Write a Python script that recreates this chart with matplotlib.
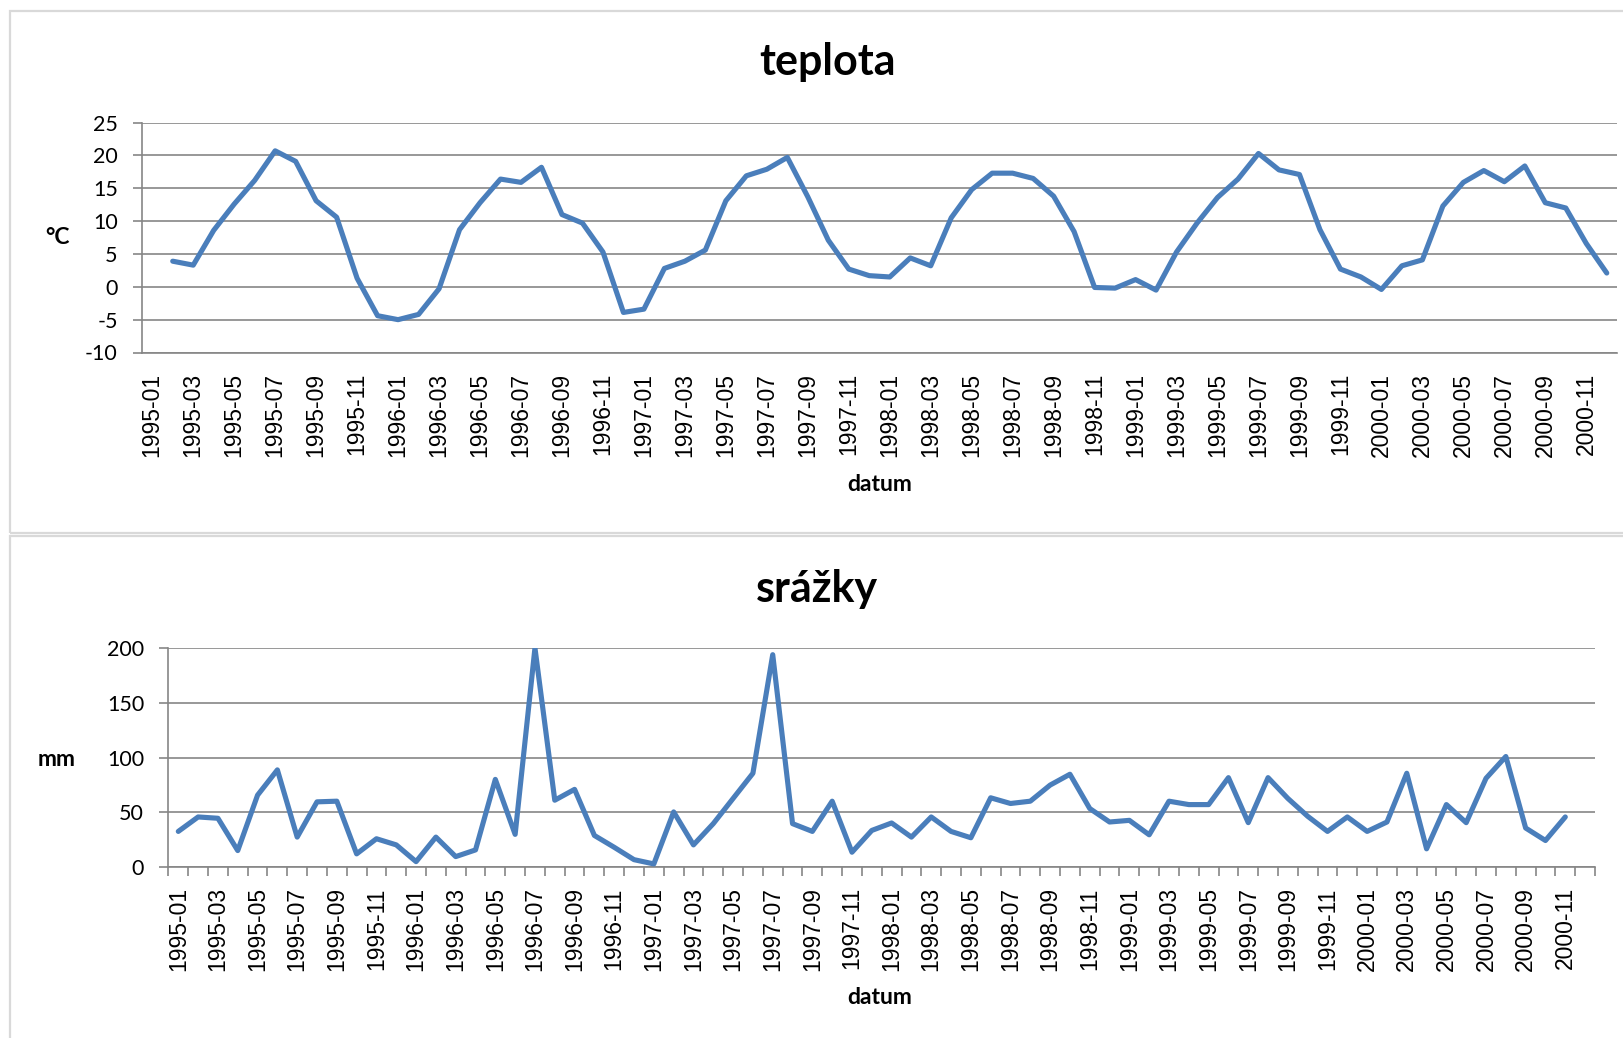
import numpy as np
import matplotlib
matplotlib.use("Agg")
import matplotlib.pyplot as plt
from matplotlib.patches import Rectangle

plt.rcParams["axes.unicode_minus"] = False

# ---------------- data ----------------
years = [1995, 1996, 1997, 1998, 1999, 2000]
months = [f"{y}-{m:02d}" for y in years for m in range(1, 13)]

teplota = [np.nan, 3.9, 3.3, 8.6, 12.6, 16.2, 20.7, 19.1, 13.1, 10.6, 1.3, -4.4,
           -5.0, -4.2, -0.3, 8.7, 12.8, 16.4, 15.9, 18.2, 11.0, 9.7, 5.3, -3.9,
           -3.4, 2.8, 3.9, 5.6, 13.1, 16.9, 17.9, 19.7, 13.7, 7.1, 2.7, 1.7,
           1.5, 4.4, 3.2, 10.5, 14.8, 17.3, 17.3, 16.5, 13.8, 8.4, -0.1, -0.2,
           1.1, -0.5, 5.3, 9.7, 13.6, 16.4, 20.3, 17.8, 17.1, 8.7, 2.7, 1.5,
           -0.4, 3.2, 4.1, 12.3, 15.9, 17.7, 16.0, 18.4, 12.8, 12.0, 6.6, 2.1]

srazky = [32.5, 45.7, 44.5, 15.0, 65.6, 88.7, 27.3, 59.5, 60.1, 12.0, 25.8, 20.2,
          4.9, 27.3, 9.5, 15.6, 80.0, 29.8, 200.0, 61.0, 70.9, 28.8, 18.0, 6.7,
          2.8, 50.3, 20.2, 39.6, 62.6, 85.6, 193.9, 39.6, 32.5, 60.1, 13.5, 33.4,
          40.2, 27.3, 45.7, 32.5, 26.7, 63.2, 58.0, 60.1, 74.8, 84.7, 53.4, 41.1,
          42.6, 29.4, 60.1, 57.0, 57.0, 81.6, 40.5, 81.6, 62.6, 46.3, 32.5, 45.7,
          32.5, 41.1, 85.6, 16.6, 57.0, 40.5, 81.0, 100.9, 35.6, 24.2, 45.7, np.nan]

temp_ticks = [-10, -5, 0, 5, 10, 15, 20, 25]
rain_ticks = [0, 50, 100, 150, 200]

# ---------------- styles ----------------
W, H = 1623, 1038
DPI = 100
LINE = "#4A7EBB"
GRID = "#868686"
BORDER = "#D9D9D9"
SANS = ["Lato", "DejaVu Sans"]
ARIAL = ["Liberation Sans", "DejaVu Sans"]

fig = plt.figure(figsize=(W / DPI, H / DPI), dpi=DPI)
fig.patch.set_facecolor("white")


def rect(l, t, r, b):
    return [l / W, 1 - b / H, (r - l) / W, (b - t) / H]


def fx(x):
    return x / W


def fy(y):
    return 1 - y / H


# panel borders
fig.add_artist(Rectangle((fx(10), fy(533)), fx(1700) - fx(10), fy(11) - fy(533),
                         transform=fig.transFigure, fill=False, ec=BORDER, lw=1.6))
fig.add_artist(Rectangle((fx(10), fy(1100)), fx(1700) - fx(10), fy(536) - fy(1100),
                         transform=fig.transFigure, fill=False, ec=BORDER, lw=1.6))

x = np.arange(len(months))
labels = [m if i % 2 == 0 else "" for i, m in enumerate(months)]


def style_axes(ax, values, yticks, ymin, ymax, minor_x_ticks):
    ax.plot(x, values, color=LINE, lw=3.7,
            solid_joinstyle="round", solid_capstyle="round", zorder=3)
    ax.set_xlim(-0.5, len(months) - 0.5)
    ax.set_ylim(ymin, ymax)
    ax.set_yticks(yticks)
    ax.yaxis.grid(True, color=GRID, lw=1.2)
    ax.set_axisbelow(True)
    for s in ("top", "right"):
        ax.spines[s].set_visible(False)
    ax.spines["left"].set_color(GRID)
    ax.spines["left"].set_linewidth(1.2)
    ax.spines["bottom"].set_color(GRID)
    ax.spines["bottom"].set_linewidth(1.2)
    ax.tick_params(axis="y", direction="out", length=6.5, width=1.2, color=GRID,
                   pad=11, labelsize=15.5)
    for t in ax.get_yticklabels():
        t.set_fontfamily(SANS)
    ax.set_xticks(x)
    ax.set_xticklabels(labels, rotation=90, fontsize=16.5, family=ARIAL)
    ax.tick_params(axis="x", which="major", length=0, pad=14.5)
    if minor_x_ticks:
        ax.set_xticks(np.arange(-0.5, len(months)), minor=True)
        ax.tick_params(axis="x", which="minor", direction="out", length=6.5,
                       width=1.2, color=GRID)
    ax.set_facecolor("none")


ax_top = fig.add_axes(rect(142, 122.6, 1617, 352.5))
style_axes(ax_top, teplota, temp_ticks, -10, 25, False)

ax_bot = fig.add_axes(rect(168.4, 648, 1595, 867))
style_axes(ax_bot, srazky, rain_ticks, 0, 200, True)

# titles and axis labels
fig.text(fx(827), fy(75), "teplota", ha="center", va="baseline",
         fontsize=31, fontweight="bold", family=SANS)
fig.text(fx(817), fy(602), "srážky", ha="center", va="baseline",
         fontsize=31, fontweight="bold", family=SANS)
fig.text(fx(58), fy(238), "°C", ha="center", va="center",
         fontsize=16.5, fontweight="bold", family=SANS)
fig.text(fx(57), fy(760), "mm", ha="center", va="center",
         fontsize=16.5, fontweight="bold", family=SANS)
fig.text(fx(880), fy(485), "datum", ha="center", va="center",
         fontsize=16.5, fontweight="bold", family=SANS)
fig.text(fx(880), fy(997), "datum", ha="center", va="center",
         fontsize=16.5, fontweight="bold", family=SANS)

fig.savefig("out.png", dpi=DPI, facecolor="white")
